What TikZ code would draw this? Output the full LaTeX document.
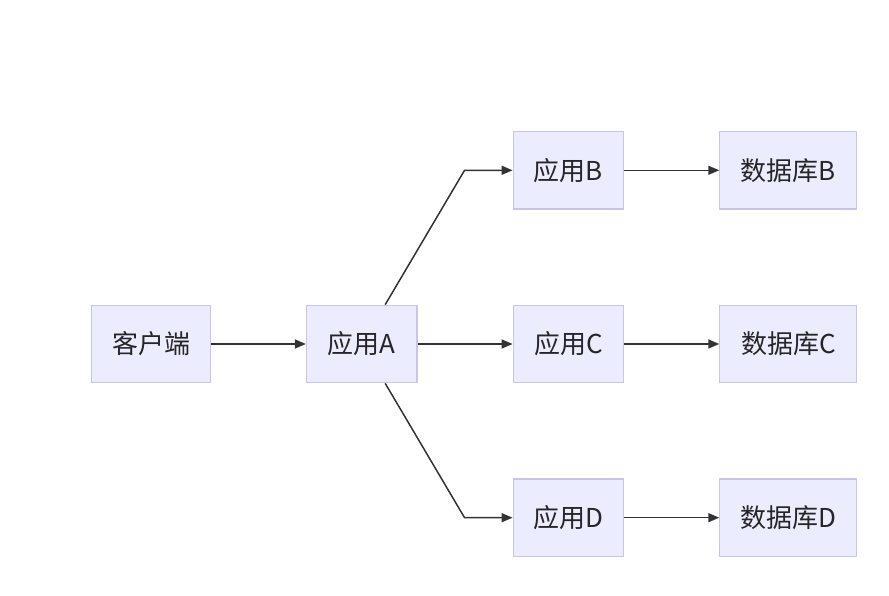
\documentclass[tikz,border=0pt]{standalone}
\usepackage{fontspec}
\newfontfamily\cjk{Noto Sans CJK SC}
\usetikzlibrary{arrows.meta,positioning,calc}
\definecolor{boxfill}{HTML}{ECECFF}
\definecolor{boxline}{HTML}{C8C4EC}
\definecolor{linkcol}{HTML}{333333}

\begin{document}
\begin{tikzpicture}[
    x=1pt, y=1pt,
    font=\cjk\fontsize{26}{31}\selectfont,
    svc/.style={draw=boxline, fill=boxfill, rectangle, line width=1.2pt, inner xsep=10pt, minimum width=110.5pt, minimum height=77.5pt, text=black!85},
    store/.style={svc, minimum width=137pt}
]
\tikzset{link/.style={draw=linkcol, line width=1.5pt, -{Triangle[length=11pt,width=9pt]}}}
\useasboundingbox (0,0) rectangle (889,596);

\node[svc, minimum width=119.5pt] (client) at (151,252) {客户端};
\node[svc, right=94.5pt of client] (app_a) {应用A};
\node[svc, right=95pt of app_a] (app_c) {应用C};
\node[svc, above=95pt of app_c] (app_b) {应用B};
\node[svc, below=95pt of app_c] (app_d) {应用D};
\node[store, right=95pt of app_b] (db_b) {数据库B};
\node[store, right=95pt of app_c] (db_c) {数据库C};
\node[store, right=95pt of app_d] (db_d) {数据库D};

% bends of the forked links
\coordinate (bend_b) at ($(app_b.west)+(-48,0)$);
\coordinate (bend_d) at ($(app_d.west)+(-48,0)$);

\draw[link] (client) -- (app_a);
\draw[link] ($(app_a.north)+(23.5,0)$) -- (bend_b) -- (app_b.west);
\draw[link] (app_a) -- (app_c);
\draw[link] ($(app_a.south)+(23.5,0)$) -- (bend_d) -- (app_d.west);
\draw[link] (app_b) -- (db_b);
\draw[link] (app_c) -- (db_c);
\draw[link] (app_d) -- (db_d);

\end{tikzpicture}
\end{document}
